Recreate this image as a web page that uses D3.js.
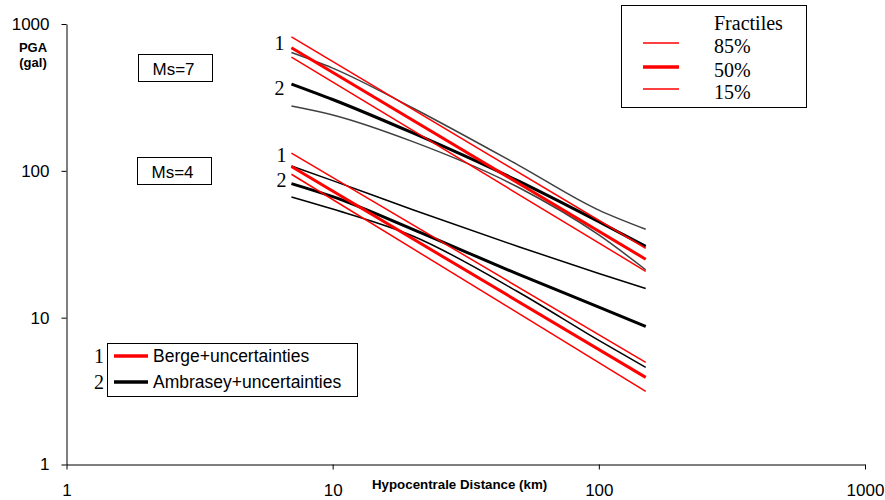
<!DOCTYPE html>
<html><head><meta charset="utf-8">
<script src="https://cdn.jsdelivr.net/npm/d3@7"></script>
<style>body{margin:0;background:#fff}svg{display:block}</style>
</head><body>
<svg id="c" width="885" height="500"></svg>
<script>
// ---- data ----
const tickValues = [1, 10, 100, 1000];
const bergeDist = [7, 150];
const berge7_85 = [818, 29.7];
const berge7_50 = [689, 25];
const berge7_15 = [595, 20.7];
const berge4_85 = [132, 4.96];
const berge4_50 = [107, 3.92];
const berge4_15 = [94.8, 3.15];
const ambDist = [7, 10, 20, 50, 100, 150];
const amb7_85 = [640, 501, 268, 109, 54, 40];
const amb7_50 = [390, 306, 181, 85, 45, 30.6];
const amb7_15 = [276, 240, 158, 77, 36.6, 21.2];
const amb4_85 = [108, 85.8, 54.3, 30.4, 20, 15.8];
const amb4_50 = [81.9, 66.7, 40, 19.7, 11.8, 8.7];
const amb4_15 = [66.4, 54.9, 36, 14.9, 7.0, 4.58];
const fractileLabels = ["85%", "50%", "15%"];
const modelLabels = ["Berge+uncertainties", "Ambrasey+uncertainties"];

const svg = d3.select("#c");
const x = d3.scaleLog().domain([1, 1000]).range([66.5, 865]);
const y = d3.scaleLog().domain([1, 1000]).range([464.5, 24]);
const fmt = d3.format("d");

// axes
const gy = svg.append("g").attr("transform", "translate(66.5,0)")
  .call(d3.axisLeft(y).tickValues(tickValues).tickFormat(fmt).tickSize(5).tickSizeOuter(0).tickPadding(12));
gy.selectAll("text").style("font-family", "Arial, 'Liberation Sans', sans-serif").style("font-size", "17px").attr("fill", "#000");
gy.selectAll("line,path").attr("stroke", "#000");

const gx = svg.append("g").attr("transform", "translate(0,464.5)")
  .call(d3.axisBottom(x).tickValues(tickValues).tickFormat(fmt).tickSize(5).tickSizeOuter(0).tickPadding(14));
gx.selectAll("text").style("font-family", "Arial, 'Liberation Sans', sans-serif").style("font-size", "17px").attr("fill", "#000");
gx.selectAll("line,path").attr("stroke", "#000");

// axis titles
const sans = "Arial, 'Liberation Sans', sans-serif";
const serif = "'Times New Roman', 'Liberation Serif', serif";
svg.append("text").attr("x", 33).attr("y", 52).attr("text-anchor", "middle")
  .style("font-family", sans).style("font-weight", "bold").style("font-size", "13px").text("PGA");
svg.append("text").attr("x", 33).attr("y", 67).attr("text-anchor", "middle")
  .style("font-family", sans).style("font-weight", "bold").style("font-size", "13px").text("(gal)");
svg.append("text").attr("x", 372).attr("y", 489)
  .style("font-family", sans).style("font-weight", "bold").style("font-size", "13.3px").text("Hypocentrale Distance (km)");

// lines
const line = d3.line().x(d => x(d[0])).y(d => y(d[1])).curve(d3.curveMonotoneX);
function draw(dist, vals, color, w) {
  svg.append("path").datum(dist.map((d, i) => [d, vals[i]]))
    .attr("d", line).attr("fill", "none").attr("stroke", color).attr("stroke-width", w);
}
draw(ambDist, amb7_85, "#404040", 1.5);
draw(ambDist, amb7_15, "#404040", 1.5);
draw(ambDist, amb7_50, "#000", 3);
draw(ambDist, amb4_85, "#000", 1.5);
draw(ambDist, amb4_15, "#000", 1.5);
draw(ambDist, amb4_50, "#000", 3);
draw(bergeDist, berge7_85, "#ff0000", 1.5);
draw(bergeDist, berge7_15, "#ff0000", 1.5);
draw(bergeDist, berge7_50, "#ff0000", 3);
draw(bergeDist, berge4_85, "#ff0000", 1.5);
draw(bergeDist, berge4_15, "#ff0000", 1.5);
draw(bergeDist, berge4_50, "#ff0000", 3);

// curve number labels
function num(t, xx, yy) {
  svg.append("text").attr("x", xx).attr("y", yy).attr("text-anchor", "middle")
    .style("font-family", serif).style("font-size", "20px").text(t);
}
num("1", x(bergeDist[0]) - 12, y(berge7_85[0]) + 13);
num("2", x(ambDist[0]) - 12, y(amb7_50[0]) + 11);
num("1", x(bergeDist[0]) - 10, y(berge4_85[0]) + 9);
num("2", x(ambDist[0]) - 10, y(amb4_50[0]) + 3);

// Ms boxes
function msBox(t, bx, by) {
  svg.append("rect").attr("x", bx).attr("y", by).attr("width", 74).attr("height", 27)
    .attr("fill", "#fff").attr("stroke", "#000").attr("stroke-width", 1);
  svg.append("text").attr("x", bx + 35).attr("y", by + 20).attr("text-anchor", "middle")
    .style("font-family", sans).style("font-size", "17px").text(t);
}
msBox("Ms=7", 138.5, 54.5);
msBox("Ms=4", 137.5, 157.5);

// Fractiles legend
svg.append("rect").attr("x", 621.5).attr("y", 5.5).attr("width", 185).attr("height", 102)
  .attr("fill", "#fff").attr("stroke", "#000").attr("stroke-width", 1);
svg.append("text").attr("x", 714).attr("y", 30).style("font-family", serif).style("font-size", "20px").text("Fractiles");
const fw = [1.3, 3.5, 1.3];
fractileLabels.forEach((t, i) => {
  const ly = [43, 67, 89][i];
  svg.append("line").attr("x1", 643).attr("x2", 679).attr("y1", ly).attr("y2", ly)
    .attr("stroke", "#ff0000").attr("stroke-width", fw[i]);
  svg.append("text").attr("x", 714).attr("y", ly + 10).style("font-family", serif).style("font-size", "20px").text(t);
});

// model legend
svg.append("rect").attr("x", 107.5).attr("y", 343.5).attr("width", 250).attr("height", 53)
  .attr("fill", "#fff").attr("stroke", "#000").attr("stroke-width", 1);
const mColors = ["#ff0000", "#000"];
modelLabels.forEach((t, i) => {
  const ly = [356, 382][i];
  svg.append("line").attr("x1", 114).attr("x2", 148).attr("y1", ly).attr("y2", ly)
    .attr("stroke", mColors[i]).attr("stroke-width", 3.5);
  svg.append("text").attr("x", 153).attr("y", ly + 6).style("font-family", sans).style("font-size", "17.5px").text(t);
  svg.append("text").attr("x", 99).attr("y", ly + 7).attr("text-anchor", "middle")
    .style("font-family", serif).style("font-size", "20px").text(String(i + 1));
});
</script>
</body></html>
